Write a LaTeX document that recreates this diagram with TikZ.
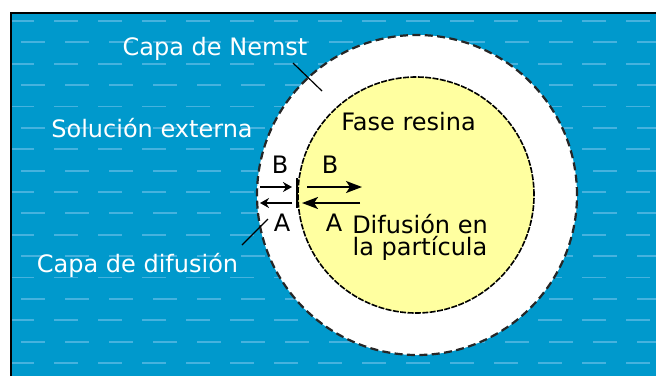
\documentclass[tikz,border=0pt]{standalone}
\usepackage{fontspec}
\setmainfont{DejaVu Sans}
\usetikzlibrary{arrows.meta}
\definecolor{sea}{RGB}{0,153,204}
\definecolor{wave}{RGB}{70,178,222}
\definecolor{resin}{RGB}{255,255,160}

\begin{document}
\begin{tikzpicture}[x=0.5pt, y=-0.5pt, line width=1pt,
  small/.style={-{Stealth[length=4.5pt,width=5pt]}},
  big/.style={-{Stealth[length=8pt,width=6pt,inset=2pt]}}]
\tikzstyle{outtext}=[text=white, inner sep=0pt, anchor=base, font=\fontsize{12}{11}\selectfont]
\tikzstyle{intext}=[outtext, text=black, align=center]
\useasboundingbox (0,0) rectangle (656,376);
% sea with the little waves
\fill[sea] (11,13) rectangle (656,376);
\begin{scope}
\clip (12,14) rectangle (656,376);
\foreach \k in {0,...,16}{
  \pgfmathsetmacro{\yy}{21+21.375*\k}
  \pgfmathsetmacro{\xx}{10+11*mod(\k,2)}
  \draw[wave, line width=0.9pt, dash pattern=on 12pt off 10pt] (\xx,\yy) -- (660,\yy);
}
\end{scope}
% particle
\node[circle, minimum size=160pt, fill=white, draw=black!85, line width=1.1pt,
      dash pattern=on 4pt off 2.2pt] (shell) at (417,195) {};
\node[circle, minimum size=118pt, fill=resin, draw=black, line width=0.8pt,
      dash pattern=on 3pt off 0.7pt] (bead) at (416,195) {};
\coordinate (mtop) at (297,178);
\coordinate (mbot) at (297,208);
\draw[line width=0.8pt] (mtop) -- (mbot);
% fluxes
\coordinate (b1) at (260,187); \coordinate (b2) at (292,187);
\coordinate (b3) at (307,187); \coordinate (b4) at (362,187);
\coordinate (a1) at (292,203); \coordinate (a2) at (260,203);
\coordinate (a3) at (360,203); \coordinate (a4) at (302,203);
\draw[small] (b1) -- (b2);
\draw[big]   (b3) -- (b4);
\draw[small] (a1) -- (a2);
\draw[big]   (a3) -- (a4);
% labels
\node[outtext] (nernst) at (215,55) {Capa de Nemst};
\node[outtext] (sol) at (152,137) {Solución externa};
\node[outtext] (dif) at (137.5,272) {Capa de difusión};
\node[intext] (fase) at (408.5,130) {Fase resina};
\node[intext] (part) at (420,255) {Difusión en\\la partícula};
\node[intext] (Bout) at (280,173) {B};
\node[intext] (Bin) at (330,173) {B};
\node[intext] (Aout) at (282,231) {A};
\node[intext] (Ain) at (334,231) {A};
% leaders
\coordinate (n1) at (293,63); \coordinate (n2) at (322,91);
\coordinate (d1) at (242,245); \coordinate (d2) at (268,219);
\draw[line width=0.6pt] (n1) -- (n2);
\draw[line width=0.6pt] (d1) -- (d2);
% frame
\draw[line width=1.3pt] (11,376) -- (11,13) -- (656,13);
\end{tikzpicture}
\end{document}
